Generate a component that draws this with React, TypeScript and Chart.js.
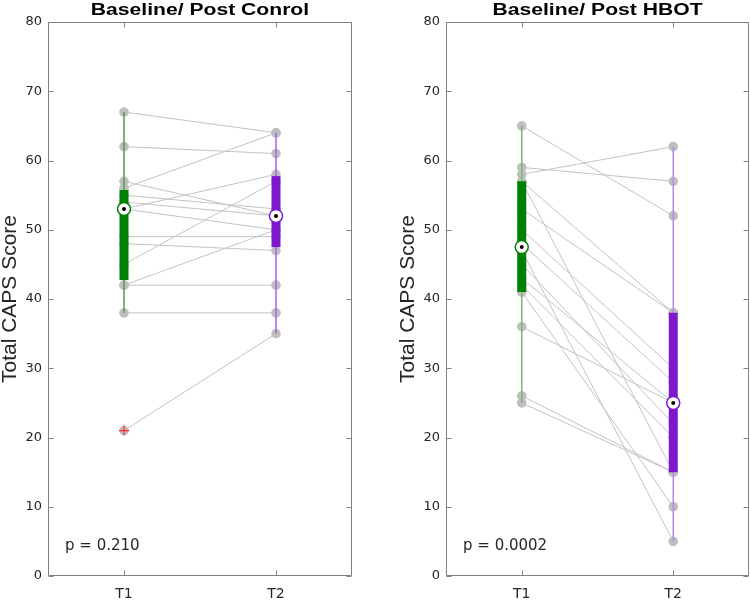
import React, { useEffect, useRef } from 'react';
import { Chart, registerables } from 'chart.js';

Chart.register(...registerables);

// ---- data ----
const timeLabels = ['T1', 'T2'];
const yTickValues = [0, 10, 20, 30, 40, 50, 60, 70, 80];

// Control group: paired subjects (T1 -> T2)
const controlT1 = [67, 62, 57, 56, 55, 54, 53, 53, 49, 48, 45, 42, 42, 38, 21];
const controlT2 = [64, 61, 52, 64, 53, 52, 58, 50, 49, 47, 57, 50, 42, 38, 35];
// box stats: [whiskerLow, q1, median, q3, whiskerHigh]
const controlBoxT1 = [38, 42.75, 53, 55.75, 67];
const controlBoxT2 = [35, 47.5, 52, 57.75, 64];
const controlOutliersT1 = [21];
const controlP = 'p = 0.210';

// HBOT group
const hbotT1 = [65, 59, 58, 57, 57, 53, 50, 48, 47, 45, 43, 42, 41, 36, 26, 25];
const hbotT2 = [52, 57, 62, 15, 38, 38, 30, 28, 5, 22, 25, 20, 10, 25, 15, 15];
const hbotBoxT1 = [25, 41, 47.5, 57, 65];
const hbotBoxT2 = [5, 15, 25, 38, 62];
const hbotOutliersT1: number[] = [];
const hbotP = 'p = 0.0002';

const titles = ['Baseline/ Post Conrol', 'Baseline/ Post HBOT'];
const yAxisTitle = 'Total CAPS Score';

const GREEN = '#008000';
const PURPLE = '#7d18cf';
const GRAY_PT = '#bfbfbf';
const GRAY_LN = '#c3c3c3';
const FRAME = '#808080';
const TEXT = '#262626';

type PanelDef = {
  title: string;
  t1: number[];
  t2: number[];
  box1: number[];
  box2: number[];
  outliers: number[];
  pText: string;
  whisker1: string;
  whisker2: string;
  padLeft: number;
  padRight: number;
};

const panels: PanelDef[] = [
  {
    title: titles[0], t1: controlT1, t2: controlT2, box1: controlBoxT1, box2: controlBoxT2,
    outliers: controlOutliersT1, pText: controlP, whisker1: '#45a345', whisker2: '#a066e0',
    padLeft: 0, padRight: 23,
  },
  {
    title: titles[1], t1: hbotT1, t2: hbotT2, box1: hbotBoxT1, box2: hbotBoxT2,
    outliers: hbotOutliersT1, pText: hbotP, whisker1: '#74bb74', whisker2: '#b98be8',
    padLeft: 23, padRight: 1,
  },
];

function seg(x: number, a: number, b: number) {
  return [{ x, y: a }, { x, y: b }];
}

function buildConfig(p: PanelDef): any {
  const pairLines = p.t1.map((v, i) => ({
    data: [{ x: 1, y: v }, { x: 2, y: p.t2[i] }],
    showLine: true,
    borderColor: GRAY_LN,
    borderWidth: 1,
    pointRadius: 0,
  }));

  const datasets: any[] = [
    {
      data: [{ x: 1, y: p.box1[2] }, { x: 2, y: p.box2[2] }],
      pointRadius: 2,
      pointBackgroundColor: '#000',
      pointBorderWidth: 0,
      showLine: false,
    },
    {
      data: [{ x: 1, y: p.box1[2] }, { x: 2, y: p.box2[2] }],
      pointRadius: 6.5,
      pointBackgroundColor: '#ffffff',
      pointBorderColor: [GREEN, PURPLE],
      pointBorderWidth: 1.5,
      showLine: false,
    },
    {
      data: p.outliers.map((v) => ({ x: 1, y: v })),
      pointStyle: 'cross',
      pointRadius: 5,
      pointBorderColor: '#ff2a2a',
      pointBorderWidth: 1.2,
      showLine: false,
    },
    {
      data: seg(1, p.box1[1], p.box1[3]),
      showLine: true, borderColor: GREEN, borderWidth: 9, borderCapStyle: 'butt', pointRadius: 0,
    },
    {
      data: seg(2, p.box2[1], p.box2[3]),
      showLine: true, borderColor: PURPLE, borderWidth: 9, borderCapStyle: 'butt', pointRadius: 0,
    },
    {
      data: seg(1, p.box1[0], p.box1[4]),
      showLine: true, borderColor: p.whisker1, borderWidth: 1.5, borderCapStyle: 'butt', pointRadius: 0,
    },
    {
      data: seg(2, p.box2[0], p.box2[4]),
      showLine: true, borderColor: p.whisker2, borderWidth: 1.5, borderCapStyle: 'butt', pointRadius: 0,
    },
    {
      data: p.t1.map((v) => ({ x: 1, y: v })),
      pointRadius: 4.8, pointBackgroundColor: GRAY_PT, pointBorderWidth: 0, showLine: false,
    },
    {
      data: p.t2.map((v) => ({ x: 2, y: v })),
      pointRadius: 4.8, pointBackgroundColor: GRAY_PT, pointBorderWidth: 0, showLine: false,
    },
    ...pairLines,
  ];

  const deco = {
    id: 'deco',
    afterDraw(chart: any) {
      const { ctx, chartArea } = chart;
      const xs = chart.scales.x;
      const ys = chart.scales.y;
      const { left, right, top, bottom } = chartArea;
      ctx.save();
      ctx.strokeStyle = FRAME;
      ctx.lineWidth = 1;
      const l = Math.round(left) + 0.5;
      const r = Math.round(right) - 0.5;
      const t = Math.round(top) + 0.5;
      const b = Math.round(bottom) - 0.5;
      ctx.beginPath();
      ctx.rect(l, t, r - l, b - t);
      ctx.stroke();
      ctx.beginPath();
      yTickValues.forEach((v) => {
        const y = Math.round(ys.getPixelForValue(v)) + 0.5;
        ctx.moveTo(l, y);
        ctx.lineTo(l + 5, y);
        ctx.moveTo(r, y);
        ctx.lineTo(r - 5, y);
      });
      [1, 2].forEach((v) => {
        const x = Math.round(xs.getPixelForValue(v)) + 0.5;
        ctx.moveTo(x, b);
        ctx.lineTo(x, b - 5);
        ctx.moveTo(x, t);
        ctx.lineTo(x, t + 5);
      });
      ctx.stroke();

      // title
      ctx.fillStyle = '#000';
      ctx.font = 'bold 16px "Liberation Sans", Arial, sans-serif';
      ctx.textAlign = 'center';
      ctx.textBaseline = 'alphabetic';
      ctx.save();
      ctx.translate((left + right) / 2, 15);
      ctx.scale(1.32, 1);
      ctx.fillText(p.title, 0, 0);
      ctx.restore();

      // p-value
      ctx.fillStyle = TEXT;
      ctx.font = '15px "DejaVu Sans", sans-serif';
      ctx.textAlign = 'left';
      ctx.fillText(p.pText, left + 17, 550);
      ctx.restore();
    },
  };

  return {
    type: 'scatter',
    data: { datasets },
    plugins: [deco],
    options: {
      responsive: false,
      animation: false,
      events: [],
      layout: { autoPadding: false, padding: { top: 22, left: p.padLeft, right: p.padRight, bottom: 0 } },
      plugins: {
        legend: { display: false },
        tooltip: { enabled: false },
        title: { display: false },
      },
      scales: {
        x: {
          type: 'linear',
          min: 0.5,
          max: 2.5,
          afterBuildTicks: (s: any) => {
            s.ticks = [{ value: 1 }, { value: 2 }];
          },
          afterFit: (s: any) => {
            s.height = 26;
          },
          ticks: {
            callback: (v: any) => (v === 1 ? timeLabels[0] : v === 2 ? timeLabels[1] : ''),
            font: { family: '"DejaVu Sans", sans-serif', size: 14 },
            color: TEXT,
            padding: 10,
            maxRotation: 0,
            autoSkip: false,
          },
          grid: { display: false, drawTicks: false },
          border: { display: false },
        },
        y: {
          min: 0,
          max: 80,
          afterBuildTicks: (s: any) => {
            s.ticks = yTickValues.map((v) => ({ value: v }));
          },
          afterFit: (s: any) => {
            s.width = 48;
          },
          ticks: {
            font: { family: '"DejaVu Sans", sans-serif', size: 13 },
            color: TEXT,
            padding: 6,
          },
          grid: { display: false, drawTicks: false },
          border: { display: false },
          title: {
            display: true,
            text: yAxisTitle,
            font: { family: '"Liberation Sans", Arial, sans-serif', size: 21, lineHeight: 1 },
            padding: 0,
            color: TEXT,
          },
        },
      },
    },
  };
}

function Panel({ def, left }: { def: PanelDef; left: number }) {
  const ref = useRef<HTMLCanvasElement>(null);
  useEffect(() => {
    const chart = new Chart(ref.current as HTMLCanvasElement, buildConfig(def));
    return () => chart.destroy();
  }, [def]);
  return (
    <canvas
      ref={ref}
      width={375}
      height={602}
      style={{ position: 'absolute', left, top: 0, width: 375, height: 602, display: 'block' }}
    />
  );
}

export default function App() {
  return (
    <div style={{ position: 'fixed', left: 0, top: 0, width: 750, height: 602, background: '#fff' }}>
      <Panel def={panels[0]} left={0} />
      <Panel def={panels[1]} left={375} />
    </div>
  );
}
